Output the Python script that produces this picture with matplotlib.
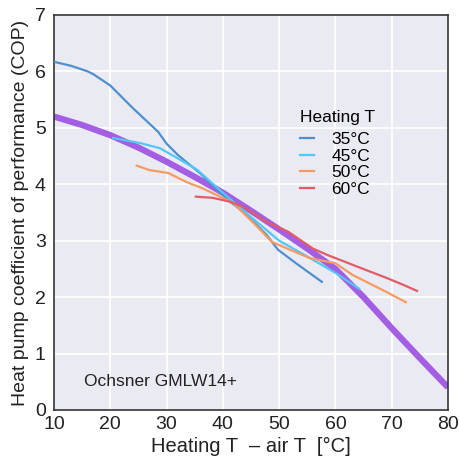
import numpy as np
import matplotlib
matplotlib.use("Agg")
import matplotlib.pyplot as plt

plt.rcParams['font.family'] = ['Liberation Sans', 'DejaVu Sans']

# measured COP curves, x = heating T - air T
t35 = [10, 13, 16, 17, 20, 24, 28.5, 30, 32, 35.9, 41.3, 43.9, 47.8, 49.8, 53, 57.6]
cop35 = [6.17, 6.1, 6.0, 5.95, 5.75, 5.35, 4.93, 4.72, 4.52, 4.2, 3.69, 3.49, 3.1, 2.84, 2.6, 2.27]

t45 = [20.5, 25.3, 28.8, 31.8, 35.4, 40, 45, 50, 55, 60, 64.2]
cop45 = [4.82, 4.73, 4.64, 4.47, 4.26, 3.85, 3.42, 3.0, 2.72, 2.43, 2.15]

t50 = [24.7, 27, 30.3, 32.7, 34.5, 35.9, 38.9, 41.8, 45.4, 48.7, 51.9, 55.5, 60, 63.1, 69.1, 72.5]
cop50 = [4.33, 4.25, 4.2, 4.08, 4.0, 3.95, 3.81, 3.67, 3.32, 2.98, 2.84, 2.69, 2.6, 2.39, 2.09, 1.91]

t60 = [35.2, 38.2, 41.3, 43.6, 47.8, 51.6, 56.0, 58.5, 64.4, 69.1, 72.0, 74.5]
cop60 = [3.78, 3.76, 3.69, 3.6, 3.33, 3.16, 2.86, 2.75, 2.52, 2.34, 2.22, 2.11]

# fitted curve
t_fit = [10, 15, 20, 25, 30, 35, 40, 45, 50, 55, 60, 65, 70, 75, 80]
cop_fit = [5.2, 5.05, 4.87, 4.65, 4.4, 4.13, 3.85, 3.53, 3.2, 2.86, 2.5, 2.0, 1.45, 0.92, 0.4]

series = [
    ("35°C", t35, cop35, "#4f8fcf"),
    ("45°C", t45, cop45, "#52c6f7"),
    ("50°C", t50, cop50, "#f79a62"),
    ("60°C", t60, cop60, "#e25c68"),
]

fig = plt.figure(figsize=(4.59, 4.62), dpi=100)
ax = fig.add_axes([0.1176, 0.1126, 0.8584, 0.855])
ax.set_facecolor("#eaeaf2")
ax.grid(True, color="white", linewidth=1.3)
ax.set_axisbelow(True)
for s in ax.spines.values():
    s.set_color("#333333")
    s.set_linewidth(1.2)

ax.plot(t_fit, cop_fit, color="#a35ee4", linewidth=4.5, solid_capstyle="butt", zorder=2)
for label, t, c, col in series:
    ax.plot(t, c, color=col, linewidth=1.6, label=label, zorder=3)

ax.set_xlim(10, 80)
ax.set_ylim(0, 7)
ax.set_xticks(np.arange(10, 81, 10))
ax.set_yticks(np.arange(0, 8, 1))
ax.tick_params(labelsize=14, length=0, colors="#222222")
ax.tick_params(axis="x", pad=4)
ax.tick_params(axis="y", pad=6)
ax.set_xlabel("Heating T  – air T  [°C]", fontsize=14.5, color="#222222", labelpad=3)
ax.set_ylabel("Heat pump coefficient of performance (COP)", fontsize=14, color="#222222", labelpad=4)

leg = ax.legend(title="Heating T", loc="upper left", bbox_to_anchor=(0.585, 0.8),
                frameon=False, fontsize=12.5, title_fontsize=12.5, handlelength=0.8,
                handletextpad=1.0, labelspacing=0.1)
leg._legend_box.align = "left"
leg._legend_box.sep = 5
ax.text(15.3, 0.5, "Ochsner GMLW14+", fontsize=12.5, color="#222222", va="center")

fig.savefig("out.png", dpi=100)
